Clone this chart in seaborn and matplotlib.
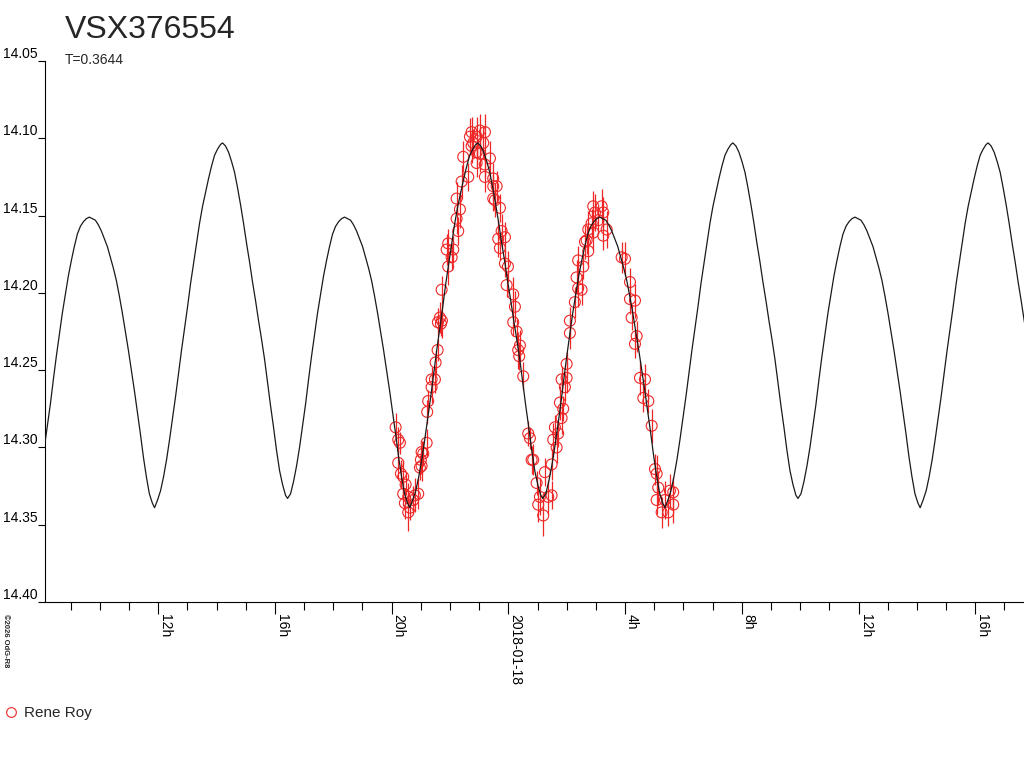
import numpy as np
import pandas as pd
import matplotlib
matplotlib.use("Agg")
import matplotlib.pyplot as plt
import matplotlib.dates as mdates
from matplotlib.lines import Line2D
from matplotlib.ticker import FormatStrFormatter, FuncFormatter
import seaborn as sns

star = "VSX376554"
period_days = 0.3644
observer = "Rene Roy"
day0 = pd.Timestamp("2018-01-17 00:00")
x_start_h, x_end_h = 8.12, 41.67          # axis span, hours after day0
y_ticks = [14.05, 14.10, 14.15, 14.20, 14.25, 14.30, 14.35, 14.40]

# model curve, one cycle: hours after the deep minimum, magnitude
cycle_hours = [0.000, 0.103, 0.206, 0.308, 0.411, 0.514, 0.617, 0.720, 0.822, 0.925,
               1.028, 1.131, 1.234, 1.337, 1.439, 1.542, 1.645, 1.748, 1.851, 1.953,
               2.056, 2.159, 2.262, 2.330, 2.433, 2.536, 2.639, 2.742, 2.844, 2.947,
               3.050, 3.153, 3.256, 3.358, 3.461, 3.564, 3.667, 3.770, 3.873, 3.975,
               4.078, 4.181, 4.284, 4.387, 4.489, 4.558, 4.661, 4.764, 4.866, 4.969,
               5.072, 5.175, 5.278, 5.380, 5.483, 5.586, 5.689, 5.792, 5.895, 5.997,
               6.100, 6.203, 6.306, 6.409, 6.511, 6.614, 6.717, 6.820, 6.923, 7.025,
               7.128, 7.231, 7.334, 7.437, 7.539, 7.642, 7.745, 7.848, 7.951, 8.053,
               8.156, 8.259, 8.362, 8.465, 8.568, 8.670]
cycle_mag = [14.339, 14.334, 14.328, 14.319, 14.308, 14.295, 14.281, 14.267, 14.252, 14.237,
             14.223, 14.209, 14.194, 14.181, 14.168, 14.155, 14.144, 14.135, 14.126, 14.118,
             14.111, 14.107, 14.104, 14.103, 14.105, 14.109, 14.115, 14.122, 14.132, 14.143,
             14.155, 14.168, 14.180, 14.193, 14.205, 14.218, 14.230, 14.243, 14.258, 14.273,
             14.287, 14.302, 14.315, 14.324, 14.331, 14.333, 14.330, 14.322, 14.312, 14.300,
             14.286, 14.272, 14.256, 14.241, 14.227, 14.213, 14.201, 14.189, 14.179, 14.170,
             14.162, 14.157, 14.154, 14.152, 14.151, 14.152, 14.153, 14.156, 14.160, 14.165,
             14.170, 14.177, 14.184, 14.192, 14.202, 14.213, 14.225, 14.237, 14.250, 14.263,
             14.277, 14.291, 14.306, 14.319, 14.330, 14.336]
min_epoch_hours = 20.62      # a deep minimum, hours after day0
cycles = [-2, -1, 0, 1, 2]

# observations (Rene Roy)
obs_hours = [20.136, 20.225, 20.225, 20.283, 20.317, 20.396, 20.396, 20.454, 20.478, 20.567,
             20.567, 20.625, 20.738, 20.797, 20.910, 20.968, 21.002, 21.026, 21.026, 21.081,
             21.198, 21.218, 21.252, 21.369, 21.369, 21.482, 21.506, 21.575, 21.585, 21.654,
             21.688, 21.712, 21.722, 21.883, 21.938, 21.938, 22.055, 22.110, 22.226, 22.226,
             22.281, 22.339, 22.398, 22.453, 22.624, 22.682, 22.740, 22.740, 22.795, 22.912,
             22.912, 22.912, 23.025, 23.025, 23.138, 23.196, 23.196, 23.196, 23.368, 23.481,
             23.481, 23.481, 23.539, 23.597, 23.652, 23.710, 23.710, 23.769, 23.882, 23.882,
             23.940, 23.985, 24.166, 24.166, 24.224, 24.282, 24.337, 24.371, 24.396, 24.509,
             24.680, 24.738, 24.796, 24.851, 24.968, 25.022, 25.081, 25.194, 25.252, 25.365,
             25.481, 25.481, 25.536, 25.594, 25.653, 25.707, 25.766, 25.824, 25.824, 25.879,
             25.937, 25.995, 25.995, 26.108, 26.108, 26.278, 26.336, 26.391, 26.391, 26.508,
             26.566, 26.624, 26.682, 26.737, 26.737, 26.853, 26.908, 26.908, 26.966, 27.081,
             27.196, 27.251, 27.251, 27.368, 27.882, 27.995, 28.167, 28.167, 28.224, 28.338,
             28.338, 28.396, 28.510, 28.624, 28.681, 28.795, 28.911, 29.024, 29.081, 29.081,
             29.136, 29.252, 29.366, 29.479, 29.536, 29.649, 29.649]
obs_mag = [14.287, 14.295, 14.310, 14.297, 14.317, 14.319, 14.330, 14.336, 14.324, 14.332,
           14.342, 14.339, 14.334, 14.331, 14.330, 14.313, 14.308, 14.303, 14.312, 14.304,
           14.297, 14.277, 14.270, 14.261, 14.256, 14.256, 14.245, 14.237, 14.219, 14.216,
           14.220, 14.198, 14.218, 14.172, 14.168, 14.183, 14.177, 14.172, 14.139, 14.152,
           14.160, 14.146, 14.128, 14.112, 14.125, 14.099, 14.096, 14.105, 14.103, 14.099,
           14.109, 14.116, 14.095, 14.110, 14.103, 14.096, 14.117, 14.125, 14.113, 14.126,
           14.131, 14.139, 14.140, 14.131, 14.165, 14.145, 14.171, 14.160, 14.164, 14.181,
           14.195, 14.183, 14.201, 14.219, 14.209, 14.225, 14.237, 14.241, 14.234, 14.254,
           14.291, 14.294, 14.308, 14.308, 14.323, 14.337, 14.332, 14.344, 14.316, 14.332,
           14.311, 14.331, 14.295, 14.287, 14.300, 14.291, 14.271, 14.281, 14.256, 14.275,
           14.261, 14.255, 14.246, 14.226, 14.218, 14.206, 14.190, 14.197, 14.179, 14.198,
           14.183, 14.167, 14.166, 14.173, 14.159, 14.155, 14.161, 14.144, 14.148, 14.153,
           14.144, 14.148, 14.163, 14.159, 14.177, 14.178, 14.193, 14.204, 14.216, 14.205,
           14.233, 14.228, 14.255, 14.268, 14.256, 14.270, 14.286, 14.314, 14.317, 14.334,
           14.326, 14.342, 14.334, 14.342, 14.328, 14.329, 14.337]
obs_err = [0.009, 0.008, 0.010, 0.007, 0.009, 0.011, 0.008, 0.010, 0.007, 0.009,
           0.012, 0.008, 0.009, 0.011, 0.010, 0.008, 0.009, 0.007, 0.010, 0.008,
           0.009, 0.008, 0.007, 0.010, 0.008, 0.009, 0.008, 0.007, 0.009, 0.010,
           0.008, 0.009, 0.011, 0.010, 0.009, 0.012, 0.008, 0.009, 0.011, 0.010,
           0.009, 0.012, 0.011, 0.010, 0.009, 0.012, 0.010, 0.011, 0.009, 0.013,
           0.010, 0.009, 0.011, 0.012, 0.010, 0.012, 0.009, 0.010, 0.011, 0.010,
           0.009, 0.008, 0.011, 0.010, 0.012, 0.009, 0.008, 0.011, 0.010, 0.009,
           0.008, 0.010, 0.011, 0.009, 0.010, 0.008, 0.012, 0.009, 0.010, 0.009,
           0.008, 0.007, 0.009, 0.010, 0.008, 0.011, 0.012, 0.013, 0.009, 0.011,
           0.010, 0.009, 0.011, 0.008, 0.010, 0.009, 0.011, 0.010, 0.009, 0.008,
           0.009, 0.010, 0.008, 0.010, 0.009, 0.010, 0.011, 0.012, 0.009, 0.010,
           0.008, 0.011, 0.009, 0.010, 0.012, 0.009, 0.011, 0.010, 0.012, 0.009,
           0.011, 0.010, 0.009, 0.012, 0.010, 0.011, 0.009, 0.010, 0.008, 0.011,
           0.009, 0.010, 0.011, 0.009, 0.010, 0.008, 0.011, 0.010, 0.012, 0.009,
           0.011, 0.010, 0.012, 0.009, 0.011, 0.010, 0.012]

red = "#ee2626"

# build model over the window from the repeated cycle
period_h = period_days * 24
rows = []
for k in cycles:
    for h, m in zip(cycle_hours, cycle_mag):
        rows.append((min_epoch_hours + k * period_h + h, m))
model = pd.DataFrame(rows, columns=["hours", "mag"])
model["time"] = day0 + pd.to_timedelta(model["hours"], unit="h")

obs = pd.DataFrame({"hours": obs_hours, "mag": obs_mag, "err": obs_err})
obs["time"] = day0 + pd.to_timedelta(obs["hours"], unit="h")

sns.set_style("white")
plt.rcParams["font.family"] = ["Liberation Sans", "DejaVu Sans"]

fig = plt.figure(figsize=(10.24, 7.68), dpi=100)
ax = fig.add_axes([45 / 1024, 1 - 602 / 768, 1 - 45 / 1024, (602 - 61) / 768])

# error bars + open circles
ax.vlines(obs["time"], obs["mag"] - obs["err"], obs["mag"] + obs["err"],
          color=red, linewidth=0.9, zorder=2)
sns.scatterplot(data=obs, x="time", y="mag", marker="o", s=62, facecolor="none",
                edgecolor=red, linewidth=0.8, legend=False, ax=ax, zorder=3)
sns.lineplot(data=model, x="time", y="mag", estimator=None, sort=False,
             color="#1a1a1a", linewidth=0.9, ax=ax, zorder=4)

ax.set_xlim(day0 + pd.Timedelta(hours=x_start_h), day0 + pd.Timedelta(hours=x_end_h))
ax.set_ylim(y_ticks[-1], y_ticks[0])
ax.set_yticks(y_ticks)
ax.yaxis.set_major_formatter(FormatStrFormatter("%.2f"))


def hour_label(x, pos):
    hr = int(round((x % 1) * 24)) % 24
    if hr == 0:
        return mdates.num2date(round(x)).strftime("%Y-%m-%d")
    return f"{hr}h"


ax.xaxis.set_major_locator(mdates.HourLocator(byhour=[0, 4, 8, 12, 16, 20]))
ax.xaxis.set_minor_locator(mdates.HourLocator())
ax.xaxis.set_major_formatter(FuncFormatter(hour_label))
ax.set_xlabel("")
ax.set_ylabel("")

for side in ["top", "right"]:
    ax.spines[side].set_visible(False)
for side in ["left", "bottom"]:
    ax.spines[side].set_linewidth(0.8)
    ax.spines[side].set_color("black")

ax.tick_params(axis="y", direction="out", length=5, width=0.8, pad=0.5,
               labelsize=10, colors="black", left=True)
ax.tick_params(axis="x", which="major", direction="out", length=8.5, width=0.8,
               pad=0.5, labelsize=10, colors="black", bottom=True)
ax.tick_params(axis="x", which="minor", direction="out", length=6, width=0.8,
               colors="black", bottom=True)
plt.setp(ax.get_xticklabels(), rotation=270, ha="left", va="top")
plt.setp(ax.get_yticklabels(), va="bottom")

fig.text(65 / 1024, 1 - 38 / 768, star, fontsize=23, ha="left", va="baseline")
fig.text(65 / 1024, 1 - 64 / 768, f"T={period_days}", fontsize=10, ha="left", va="baseline")
fig.text(2 / 1024, 1 - 614 / 768, "\u00a92026 OdG-R8", fontsize=5.5, weight="bold",
         rotation=270, ha="left", va="top")

handle = Line2D([], [], marker="o", linestyle="none", markerfacecolor="none",
                markeredgecolor=red, markersize=7, markeredgewidth=0.8)
fig.legend(handles=[handle], labels=[observer], loc="center left",
           bbox_to_anchor=(0.0, 1 - 713 / 768), frameon=False, fontsize=11,
           handlelength=1.0, handletextpad=0.4, borderaxespad=0, borderpad=0.2)

fig.savefig("out.png", dpi=100)
